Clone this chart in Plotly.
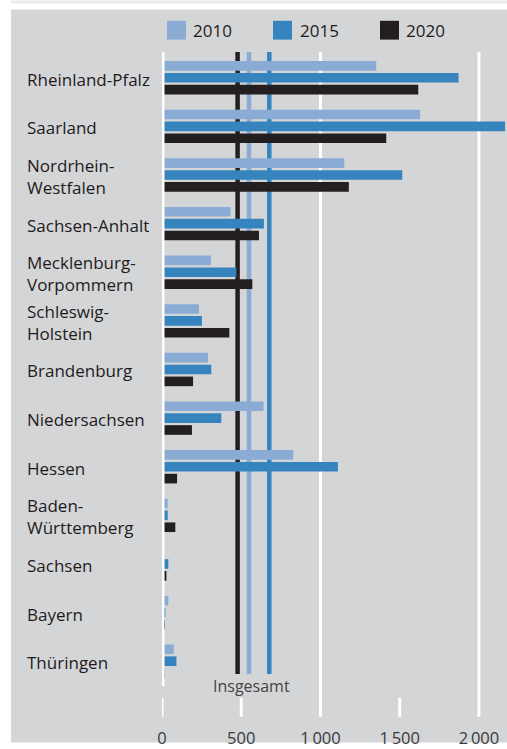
import plotly.graph_objects as go

# ---------------- data ----------------
categories = ["Rheinland-Pfalz", "Saarland", "Nordrhein-Westfalen", "Sachsen-Anhalt",
              "Mecklenburg-Vorpommern", "Schleswig-Holstein", "Brandenburg",
              "Niedersachsen", "Hessen", "Baden-Württemberg", "Sachsen", "Bayern",
              "Thüringen"]
category_labels = ["Rheinland-Pfalz", "Saarland", "Nordrhein-<br>Westfalen", "Sachsen-Anhalt",
                   "Mecklenburg-<br>Vorpommern", "Schleswig-<br>Holstein", "Brandenburg",
                   "Niedersachsen", "Hessen", "Baden-<br>Württemberg", "Sachsen", "Bayern",
                   "Thüringen"]
years = ["2010", "2015", "2020"]
values_2010 = [1352, 1629, 1150, 433, 309, 233, 290, 641, 828, 36, 8, 40, 74]
values_2015 = [1871, 2165, 1516, 643, 469, 252, 311, 374, 1110, 36, 40, 21, 91]
values_2020 = [1617, 1415, 1179, 612, 570, 425, 196, 189, 95, 84, 28, 18, 15]
insgesamt = [549, 677, 477]          # 2010, 2015, 2020
insgesamt_label = "Insgesamt"
tick_vals = [0, 500, 1000, 1500, 2000]
tick_text = ["0", "500", "1\u2009000", "1\u2009500", "2\u2009000"]

# ---------------- styles ----------------
colors = ["#8aacd4", "#3584bd", "#231f20"]
bg = "#d4d5d7"
W, H = 507, 749
ML, MR, MT, MB = 162, 0, 52, 57
PW, PH = W - ML - MR, H - MT - MB
XMAX = 2177


def px(xp):
    return (xp - ML) / PW


def py(yp):
    return (H - MB - yp) / PH


fig = go.Figure()
for yr, vals, col in zip(years, [values_2010, values_2015, values_2020], colors):
    fig.add_trace(go.Bar(x=vals, y=categories, orientation="h", name=yr,
                         marker=dict(color=col, line=dict(width=0)),
                         showlegend=False))

shapes = []
# background panel and top strips
shapes.append(dict(type="rect", xref="paper", yref="paper", x0=px(11), x1=1.0,
                   y0=py(H), y1=py(9), fillcolor=bg, line=dict(width=0), layer="below"))
shapes.append(dict(type="rect", xref="paper", yref="paper", x0=px(11), x1=1.0,
                   y0=py(3), y1=py(0), fillcolor="#ebebed", line=dict(width=0), layer="below"))
# gridlines 1000, 2000 (extend to bottom ticks)
for v in [1000, 2000]:
    shapes.append(dict(type="line", xref="x", yref="paper", x0=v, x1=v,
                       y0=py(723), y1=1.0, line=dict(color="white", width=3), layer="below"))
# short ticks at 0, 500, 1500
for v in [0, 500, 1500]:
    shapes.append(dict(type="line", xref="x", yref="paper", x0=v, x1=v,
                       y0=py(723), y1=py(704), line=dict(color="white", width=3), layer="below"))
# Insgesamt lines (behind bars)
for v, col in zip(insgesamt, colors):
    shapes.append(dict(type="line", xref="x", yref="paper", x0=v, x1=v,
                       y0=py(680), y1=1.0, line=dict(color=col, width=4.5), layer="below"))
# zero line
shapes.append(dict(type="line", xref="x", yref="paper", x0=0, x1=0,
                   y0=0, y1=1.0, line=dict(color="white", width=5), layer="above"))

annotations = []
# category labels
for cat, lab in zip(categories, category_labels):
    annotations.append(dict(x=px(25), xref="paper", y=cat, yref="y", text=lab,
                            xanchor="left", yanchor="middle", align="left", showarrow=False,
                            yshift=-1.5,
                            font=dict(family="Open Sans", size=17, color="#1f1b1c")))
# Insgesamt label
annotations.append(dict(x=sum(insgesamt) / len(insgesamt), xref="x", y=py(692), yref="paper",
                        text=insgesamt_label, showarrow=False, xanchor="center", yanchor="middle",
                        font=dict(family="Open Sans", size=16, color="#444444")))
# legend
leg_sq_x = [167, 273, 380]
leg_tx_x = [193, 300, 406]
for yr, col, sx, tx in zip(years, colors, leg_sq_x, leg_tx_x):
    shapes.append(dict(type="rect", xref="paper", yref="paper", x0=px(sx), x1=px(sx + 19),
                       y0=py(39.5), y1=py(20.5), fillcolor=col, line=dict(width=0)))
    annotations.append(dict(x=px(tx - 2), xref="paper", y=py(30.5), yref="paper", text=yr,
                            xanchor="left", yanchor="middle", showarrow=False,
                            font=dict(family="Open Sans", size=17, color="#1f1b1c")))

fig.update_layout(
    width=W, height=H,
    margin=dict(l=ML, r=MR, t=MT, b=MB, pad=0),
    paper_bgcolor="white", plot_bgcolor="rgba(0,0,0,0)",
    barmode="group", bargap=0.2665, bargroupgap=0.19,
    shapes=shapes, annotations=annotations,
    xaxis=dict(range=[0, XMAX], tickvals=tick_vals, ticktext=tick_text,
               showgrid=False, zeroline=False, showline=False, ticks="",
               ticklabelstandoff=40,
               tickfont=dict(family="Open Sans", size=16.5, color="#3a3a3a")),
    yaxis=dict(type="category", categoryorder="array", categoryarray=categories,
               range=[12.51, -0.53], showticklabels=False, showgrid=False,
               zeroline=False, showline=False, ticks=""),
)

fig.write_html("out.html")
